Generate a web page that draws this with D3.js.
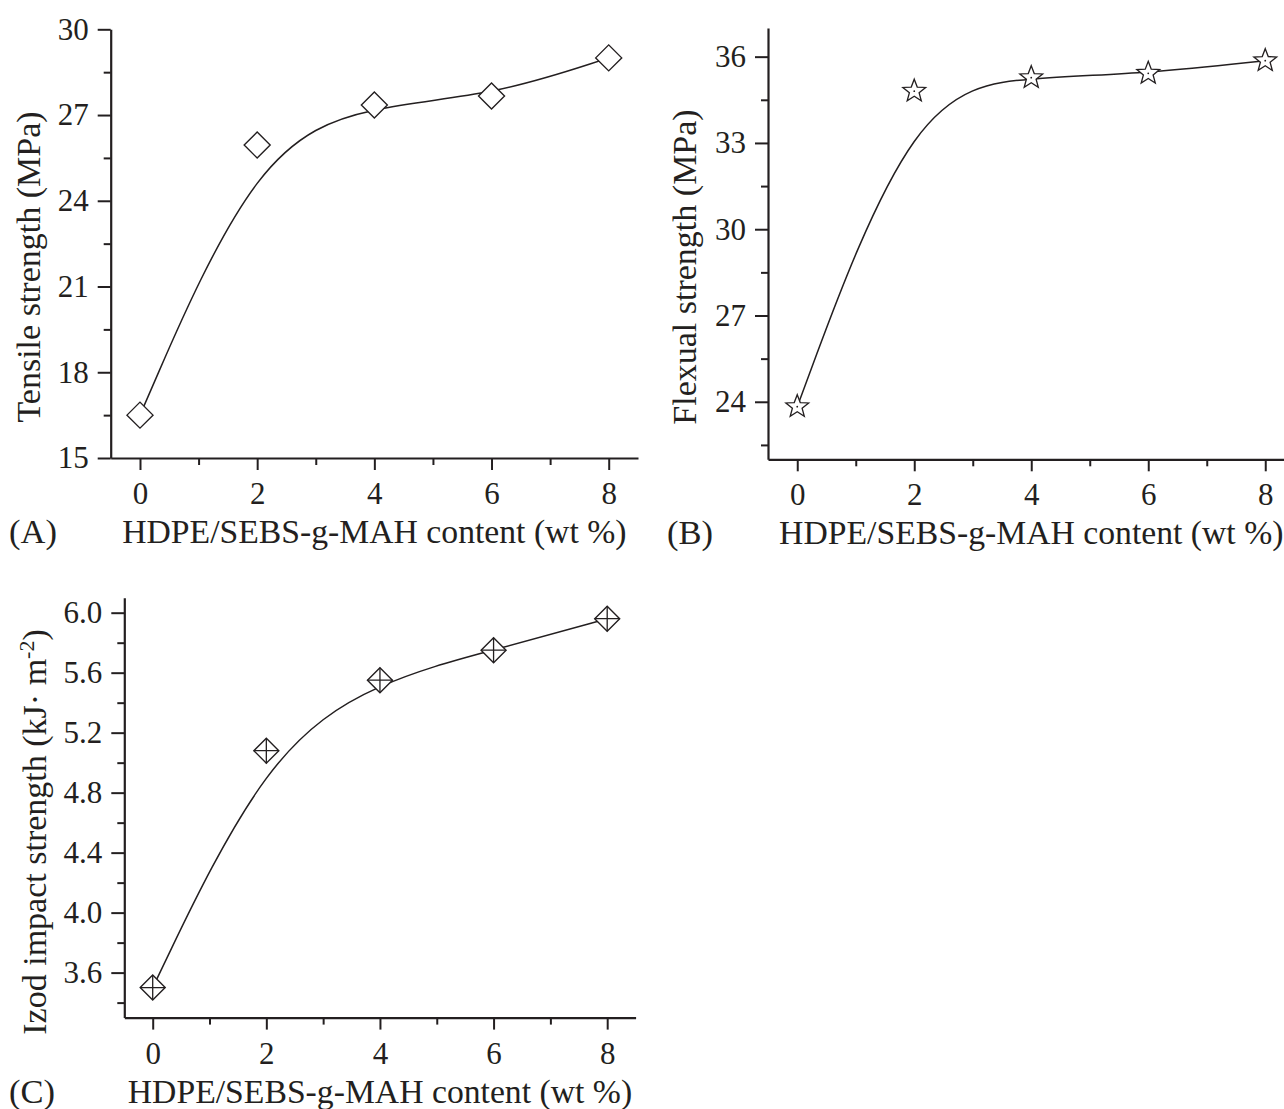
<!DOCTYPE html>
<html>
<head>
<meta charset="utf-8">
<script src="https://cdn.jsdelivr.net/npm/d3@7"></script>
<style>
  html, body { margin: 0; padding: 0; background: #fff; }
  svg { display: block; }
  text { font-family: "Liberation Serif", "Times New Roman", serif; fill: #231f20; }
</style>
</head>
<body>
<svg id="chart" width="1284" height="1109"></svg>
<script>
// ---- data ----
const contentWt = [0, 2, 4, 6, 8];
const xTicks = [0, 2, 4, 6, 8];
const xMinor = [1, 3, 5, 7];

const tensile = [16.5, 25.95, 27.35, 27.67, 29.0];
const tensileTicks = [15, 18, 21, 24, 27, 30];
const tensileMinor = [16.5, 19.5, 22.5, 25.5, 28.5];

const flexural = [23.83, 34.8, 35.27, 35.42, 35.86];
const flexTicks = [24, 27, 30, 33, 36];
const flexMinor = [22.5, 25.5, 28.5, 31.5, 34.5];

const izod = [3.50, 5.08, 5.55, 5.75, 5.96];
const izodTicks = [3.6, 4.0, 4.4, 4.8, 5.2, 5.6, 6.0];
const izodMinor = [3.4, 3.8, 4.2, 4.6, 5.0, 5.4, 5.8];

const xTitle = "HDPE/SEBS-g-MAH content (wt %)";

// ---- drawing ----
const svg = d3.select("#chart");
const INK = "#231f20";

function starPath(R, r) {
  const pts = [];
  for (let i = 0; i < 10; i++) {
    const rad = i % 2 === 0 ? R : r;
    const a = -Math.PI / 2 + i * Math.PI / 5;
    pts.push([rad * Math.cos(a), rad * Math.sin(a)]);
  }
  return "M" + pts.map(p => p[0].toFixed(2) + "," + p[1].toFixed(2)).join("L") + "Z";
}
function diamondPath(h) {
  return `M0,${-h}L${h},0L0,${h}L${-h},0Z`;
}

function panel(cfg) {
  const x = d3.scaleLinear().domain([-0.5, 8.5]).range(cfg.xr);
  const y = d3.scaleLinear().domain(cfg.yd).range(cfg.yr);
  const g = svg.append("g");

  // curve (B-spline)
  const line = d3.line().x((d, i) => x(contentWt[i])).y(d => y(d)).curve(d3.curveBasis);
  g.append("path").datum(cfg.values).attr("d", line)
    .attr("fill", "none").attr("stroke", INK).attr("stroke-width", 1.5);

  // axes
  const yAxis = d3.axisLeft(y).tickValues(cfg.yTicks).tickSize(13).tickSizeOuter(0)
    .tickPadding(9).tickFormat(cfg.fmt);
  const yMin = d3.axisLeft(y).tickValues(cfg.yMinor).tickSize(7).tickSizeOuter(0).tickFormat("");
  const xAxis = d3.axisBottom(x).tickValues(xTicks).tickSize(12).tickSizeOuter(0)
    .tickPadding(12).tickFormat(d3.format("d"));
  const xMin = d3.axisBottom(x).tickValues(xMinor).tickSize(7).tickSizeOuter(0).tickFormat("");

  const xa = cfg.xr[0], ya = cfg.yr[0];
  function style(sel) {
    sel.selectAll("path.domain").attr("stroke", INK).attr("stroke-width", 2.2);
    sel.selectAll(".tick line").attr("stroke", INK).attr("stroke-width", 2);
    sel.selectAll(".tick text").attr("font-size", 31)
      .attr("font-family", '"Liberation Serif", "Times New Roman", serif').attr("fill", INK);
  }
  g.append("g").attr("transform", `translate(${xa},0)`).call(yAxis).call(style);
  const gym = g.append("g").attr("transform", `translate(${xa},0)`).call(yMin).call(style);
  gym.select("path.domain").remove();
  const gx = g.append("g").attr("transform", `translate(0,${ya})`).call(xAxis).call(style);
  const gxm = g.append("g").attr("transform", `translate(0,${ya})`).call(xMin).call(style);
  gxm.select("path.domain").remove();
  gx.selectAll(".tick text").attr("dy", "0.71em");

  // markers
  const mk = g.append("g").selectAll("g").data(cfg.values).join("g")
    .attr("transform", (d, i) => `translate(${x(contentWt[i])},${y(d)})`);
  if (cfg.marker === "diamond") {
    mk.append("path").attr("d", diamondPath(13)).attr("fill", "#fff")
      .attr("stroke", INK).attr("stroke-width", 1.4);
  } else if (cfg.marker === "star") {
    mk.append("path").attr("d", starPath(12, 5.1)).attr("fill", "#fff")
      .attr("stroke", INK).attr("stroke-width", 1.3);
    mk.append("circle").attr("r", 0.9).attr("fill", INK);
  } else {
    mk.append("path").attr("d", diamondPath(12.5)).attr("fill", "#fff")
      .attr("stroke", INK).attr("stroke-width", 1.4);
    mk.append("path").attr("d", "M0,-12.5V12.5M-12.5,0H12.5")
      .attr("stroke", INK).attr("stroke-width", 1.3);
  }

  // x title
  g.append("text").attr("x", (cfg.xr[0] + cfg.xr[1]) / 2).attr("y", ya + 85)
    .attr("text-anchor", "middle").attr("font-size", 33.7).text(xTitle);
  g.append("text").attr("x", cfg.labelX).attr("y", ya + 85)
    .attr("font-size", 34.5).text(cfg.label);

  // y title
  const yt = g.append("text")
    .attr("transform", `translate(${cfg.yTitleX},${cfg.yTitleY}) rotate(-90)`)
    .attr("text-anchor", "middle").attr("font-size", 34);
  cfg.yTitle(yt);
}

panel({
  xr: [110.7, 638], yr: [458, 29.3], yd: [15, 30],
  values: tensile, yTicks: tensileTicks, yMinor: tensileMinor, fmt: d3.format("d"),
  marker: "diamond", label: "(A)", labelX: 9,
  yTitleX: 40, yTitleY: 267,
  yTitle: t => t.text("Tensile strength (MPa)")
});
panel({
  xr: [768, 1294.5], yr: [459.3, 27.9], yd: [22, 37],
  values: flexural, yTicks: flexTicks, yMinor: flexMinor, fmt: d3.format("d"),
  marker: "star", label: "(B)", labelX: 667,
  yTitleX: 696, yTitleY: 267,
  yTitle: t => t.text("Flexual strength (MPa)")
});
panel({
  xr: [124.3, 635.6], yr: [1017.6, 597.7], yd: [3.3, 6.1],
  values: izod, yTicks: izodTicks, yMinor: izodMinor, fmt: d3.format(".1f"),
  marker: "plusdiamond", label: "(C)", labelX: 9,
  yTitleX: 46, yTitleY: 832,
  yTitle: t => {
    t.append("tspan").text("Izod impact strength (kJ·  m");
    t.append("tspan").attr("font-size", 22).attr("dy", -12).text("-2");
    t.append("tspan").attr("dy", 12).text(")");
  }
});
</script>
</body>
</html>
